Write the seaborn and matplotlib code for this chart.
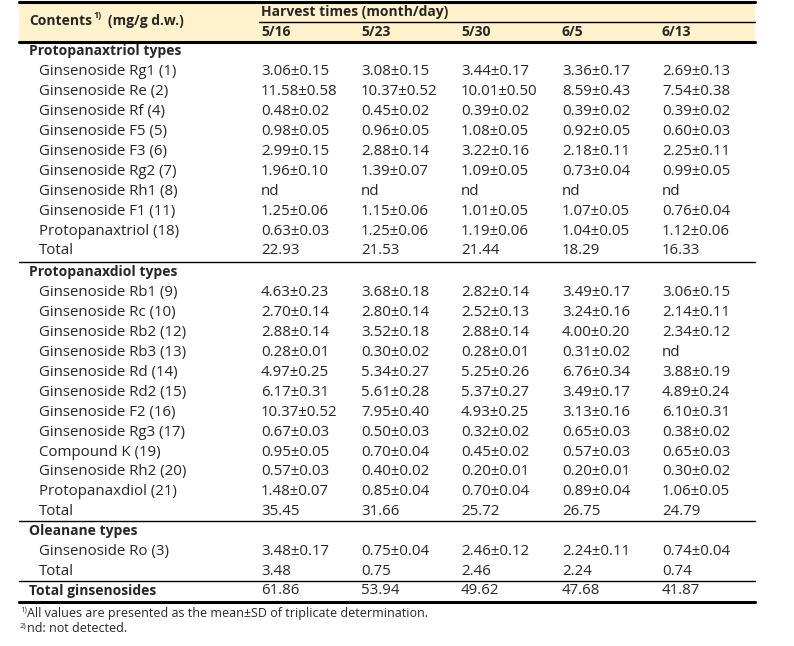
import matplotlib
matplotlib.use('Agg')
import matplotlib.pyplot as plt
import seaborn as sns

# Harvest dates (columns)
dates = ['5/16', '5/23', '5/30', '6/5', '6/13']

# Protopanaxtriol types
ppt_names = ['Ginsenoside Rg1 (1)', 'Ginsenoside Re (2)', 'Ginsenoside Rf (4)',
             'Ginsenoside F5 (5)', 'Ginsenoside F3 (6)', 'Ginsenoside Rg2 (7)',
             'Ginsenoside Rh1 (8)', 'Ginsenoside F1 (11)', 'Protopanaxtriol (18)']
ppt_mean = [[3.06, 3.08, 3.44, 3.36, 2.69],
            [11.58, 10.37, 10.01, 8.59, 7.54],
            [0.48, 0.45, 0.39, 0.39, 0.39],
            [0.98, 0.96, 1.08, 0.92, 0.60],
            [2.99, 2.88, 3.22, 2.18, 2.25],
            [1.96, 1.39, 1.09, 0.73, 0.99],
            [None, None, None, None, None],
            [1.25, 1.15, 1.01, 1.07, 0.76],
            [0.63, 1.25, 1.19, 1.04, 1.12]]
ppt_sd = [[0.15, 0.15, 0.17, 0.17, 0.13],
          [0.58, 0.52, 0.50, 0.43, 0.38],
          [0.02, 0.02, 0.02, 0.02, 0.02],
          [0.05, 0.05, 0.05, 0.05, 0.03],
          [0.15, 0.14, 0.16, 0.11, 0.11],
          [0.10, 0.07, 0.05, 0.04, 0.05],
          [None, None, None, None, None],
          [0.06, 0.06, 0.05, 0.05, 0.04],
          [0.03, 0.06, 0.06, 0.05, 0.06]]
ppt_total = [22.93, 21.53, 21.44, 18.29, 16.33]

# Protopanaxdiol types
ppd_names = ['Ginsenoside Rb1 (9)', 'Ginsenoside Rc (10)', 'Ginsenoside Rb2 (12)',
             'Ginsenoside Rb3 (13)', 'Ginsenoside Rd (14)', 'Ginsenoside Rd2 (15)',
             'Ginsenoside F2 (16)', 'Ginsenoside Rg3 (17)', 'Compound K (19)',
             'Ginsenoside Rh2 (20)', 'Protopanaxdiol (21)']
ppd_mean = [[4.63, 3.68, 2.82, 3.49, 3.06],
            [2.70, 2.80, 2.52, 3.24, 2.14],
            [2.88, 3.52, 2.88, 4.00, 2.34],
            [0.28, 0.30, 0.28, 0.31, None],
            [4.97, 5.34, 5.25, 6.76, 3.88],
            [6.17, 5.61, 5.37, 3.49, 4.89],
            [10.37, 7.95, 4.93, 3.13, 6.10],
            [0.67, 0.50, 0.32, 0.65, 0.38],
            [0.95, 0.70, 0.45, 0.57, 0.65],
            [0.57, 0.40, 0.20, 0.20, 0.30],
            [1.48, 0.85, 0.70, 0.89, 1.06]]
ppd_sd = [[0.23, 0.18, 0.14, 0.17, 0.15],
          [0.14, 0.14, 0.13, 0.16, 0.11],
          [0.14, 0.18, 0.14, 0.20, 0.12],
          [0.01, 0.02, 0.01, 0.02, None],
          [0.25, 0.27, 0.26, 0.34, 0.19],
          [0.31, 0.28, 0.27, 0.17, 0.24],
          [0.52, 0.40, 0.25, 0.16, 0.31],
          [0.03, 0.03, 0.02, 0.03, 0.02],
          [0.05, 0.04, 0.02, 0.03, 0.03],
          [0.03, 0.02, 0.01, 0.01, 0.02],
          [0.07, 0.04, 0.04, 0.04, 0.05]]
ppd_total = [35.45, 31.66, 25.72, 26.75, 24.79]

# Oleanane types
ole_names = ['Ginsenoside Ro (3)']
ole_mean = [[3.48, 0.75, 2.46, 2.24, 0.74]]
ole_sd = [[0.17, 0.04, 0.12, 0.11, 0.04]]
ole_total = [3.48, 0.75, 2.46, 2.24, 0.74]

grand_total = [61.86, 53.94, 49.62, 47.68, 41.87]

footnotes = ['All values are presented as the mean±SD of triplicate determination.',
             'nd: not detected.']

sns.set_theme(style='white')
plt.rcParams['font.family'] = ['Open Sans', 'DejaVu Sans']

fig = plt.figure(figsize=(7.94, 6.46), dpi=100)
ax = fig.add_axes([0, 0, 1, 1])
ax.set_xlim(0, 794)
ax.set_ylim(646, 0)
ax.axis('off')

FS = 10.8   # regular cells
FB = 10.0   # bold headings
x_left = 19
x_right = 755
x_sec = 29
x_item = 39
col_x = [261, 361, 461, 562, 662]
row_h = 19.95


def fmt(m, s):
    if m is None:
        return 'nd'
    return f'{m:.2f}±{s:.2f}'


# header
ax.axhspan(3, 41, xmin=x_left / 794, xmax=x_right / 794, color='#FFF2CC', lw=0)
ax.plot([x_left, x_right], [2, 2], color='black', lw=2.2)
ax.plot([col_x[0] - 2, x_right], [22, 22], color='black', lw=1.0)
ax.plot([x_left, x_right], [41.5, 41.5], color='black', lw=2.2)

t = ax.text(x_sec, 21, 'Contents', fontsize=FB, fontweight='bold', va='center')
fig.canvas.draw()
r = fig.canvas.get_renderer()
inv = ax.transData.inverted()
x_sup = inv.transform((t.get_window_extent(r).x1, 0))[0]
t2 = ax.text(x_sup + 1, 15.5, '1)', fontsize=6.5, fontweight='bold', va='center')
x_unit = inv.transform((t2.get_window_extent(r).x1, 0))[0]
ax.text(x_unit + 7, 21, '(mg/g d.w.)', fontsize=FB, fontweight='bold', va='center')
ax.text(col_x[0], 12, 'Harvest times (month/day)', fontsize=FB, fontweight='bold', va='center')
for x, d in zip(col_x, dates):
    ax.text(x, 31.5, d, fontsize=FB, fontweight='bold', va='center')


def section(title, names, means, sds, total, y):
    ax.text(x_sec, y, title, fontsize=FB, fontweight='bold', va='center')
    y += row_h + 0.5
    for name, mrow, srow in zip(names, means, sds):
        ax.text(x_item, y, name, fontsize=FS, va='center')
        for x, m, s in zip(col_x, mrow, srow):
            ax.text(x, y, fmt(m, s), fontsize=FS, va='center')
        y += row_h
    ax.text(x_item, y, 'Total', fontsize=FS, va='center')
    for x, v in zip(col_x, total):
        ax.text(x, y, f'{v:.2f}', fontsize=FS, va='center')
    return y


section('Protopanaxtriol types', ppt_names, ppt_mean, ppt_sd, ppt_total, 51)
ax.plot([x_left, x_right], [262, 262], color='black', lw=1.0)
section('Protopanaxdiol types', ppd_names, ppd_mean, ppd_sd, ppd_total, 272)
ax.plot([x_left, x_right], [521, 521], color='black', lw=1.0)
section('Oleanane types', ole_names, ole_mean, ole_sd, ole_total, 531)
ax.plot([x_left, x_right], [580.5, 580.5], color='black', lw=1.0)

ax.text(x_sec, 591, 'Total ginsenosides', fontsize=FB, fontweight='bold', va='center')
for x, v in zip(col_x, grand_total):
    ax.text(x, 591, f'{v:.2f}', fontsize=FS, va='center')
ax.plot([x_left, x_right], [602, 602], color='black', lw=2.2)

# footnotes
for i, note in enumerate(footnotes):
    yy = 613 + i * 16
    ax.text(x_left + 1, yy - 3, f'{i + 1})', fontsize=5.5, va='center')
    ax.text(x_left + 8, yy, note, fontsize=9, va='center')

fig.savefig('out.png', dpi=100)
